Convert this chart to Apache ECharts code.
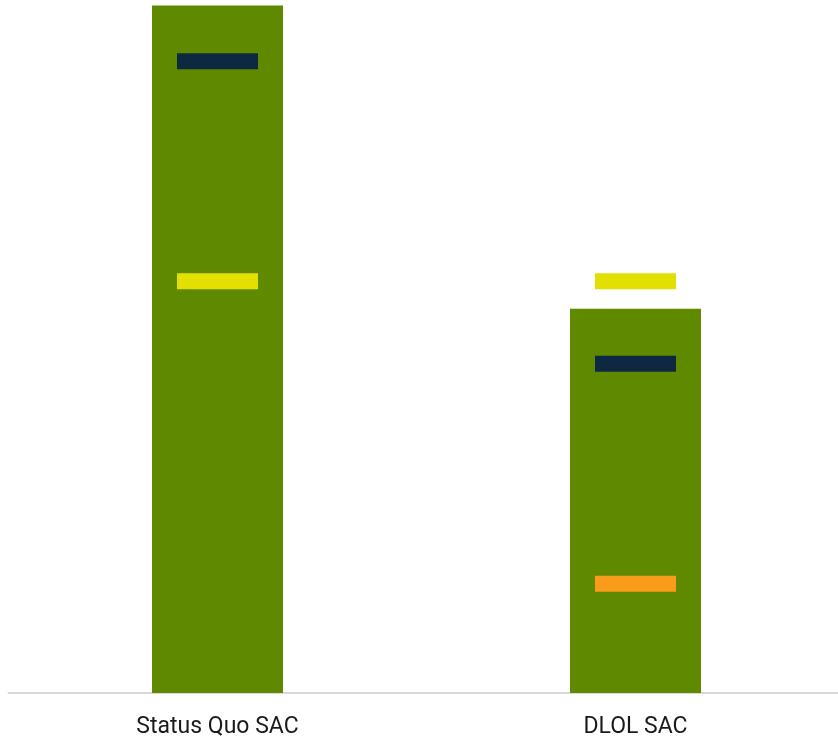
<!DOCTYPE html>
<html><head><meta charset="utf-8">
<script src="https://cdn.jsdelivr.net/npm/echarts@6/dist/echarts.min.js"></script>
<style>html,body{margin:0;padding:0;background:#fff;overflow:hidden}#c{width:845px;height:741px}</style>
</head><body><div id="c"></div>
<script>
const categories = ["Status Quo SAC", "DLOL SAC"];
const barValues = [100, 55.9];
const navyMarkers = [91.9, 47.9];
const yellowMarkers = [59.9, 59.9];
const orangeMarkers = [null, 15.9];

const chart = echarts.init(document.getElementById('c'));
const markerSize = [81, 16];
chart.setOption({
  animation: false,
  grid: {left: 8.5, right: 0.5, top: 5.5, bottom: 48, containLabel: false},
  xAxis: {
    type: 'category', data: categories,
    axisLine: {show: true, lineStyle: {color: '#d9d9d9', width: 2}},
    axisTick: {show: false},
    axisLabel: {color: '#1a1a1a', fontSize: 23, margin: 23, fontFamily: 'Roboto, sans-serif'}
  },
  yAxis: {type: 'value', min: 0, max: 100, show: false, splitLine: {show: false}},
  series: [
    {type: 'bar', data: barValues, barWidth: 131, itemStyle: {color: '#5f8a00'}, z: 1},
    {type: 'scatter', data: navyMarkers, symbol: 'rect', symbolSize: markerSize, itemStyle: {color: '#0e2841', opacity: 1}, z: 3},
    {type: 'scatter', data: yellowMarkers, symbol: 'rect', symbolSize: markerSize, itemStyle: {color: '#e3df00', opacity: 1}, z: 3},
    {type: 'scatter', data: orangeMarkers, symbol: 'rect', symbolSize: markerSize, itemStyle: {color: '#f99c1c', opacity: 1}, z: 3}
  ]
});
</script></body></html>
